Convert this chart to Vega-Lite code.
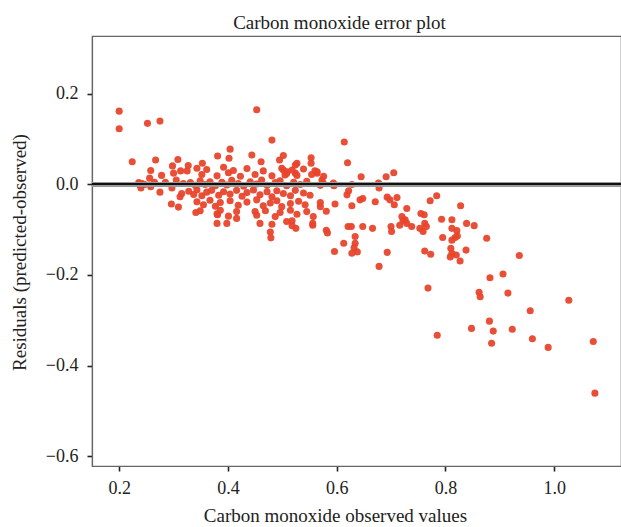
{
  "$schema": "https://vega.github.io/schema/vega-lite/v6.json",
  "width": 529,
  "height": 430,
  "autosize": "none",
  "padding": {"left": 92, "top": 36, "right": 0, "bottom": 61},
  "background": "white",
  "title": {"text": "Carbon monoxide error plot", "font": "Liberation Serif", "fontSize": 19, "fontWeight": "normal", "color": "#222", "anchor": "middle", "dx": -17, "dy": 22, "baseline": "alphabetic", "offset": 10},
  "config": {
    "view": {"stroke": "#666", "strokeWidth": 1.2},
    "axis": {"labelFont": "Liberation Serif", "titleFont": "Liberation Serif", "labelFontSize": 18, "titleFontSize": 19, "titleFontWeight": "normal", "labelColor": "#222", "titleColor": "#222", "domainColor": "#666", "domainWidth": 1.2, "tickColor": "#222", "tickWidth": 1.6, "tickSize": 5, "grid": false}
  },
  "data": {"values": [
    {"x":0.200,"r":0.162},{"x":0.200,"r":0.123},{"x":0.252,"r":0.135},{"x":0.275,"r":0.140},{"x":0.453,"r":0.165},{"x":0.481,"r":0.098},{"x":0.614,"r":0.094},{"x":0.620,"r":0.048},
    {"x":0.224,"r":0.050},{"x":0.267,"r":0.054},{"x":0.308,"r":0.055},{"x":0.298,"r":0.041},{"x":0.381,"r":0.063},{"x":0.404,"r":0.078},{"x":0.402,"r":0.058},{"x":0.444,"r":0.065},
    {"x":0.461,"r":0.050},{"x":0.502,"r":0.064},{"x":0.495,"r":0.054},{"x":0.553,"r":0.059},{"x":0.553,"r":0.047},{"x":0.524,"r":0.043},{"x":0.527,"r":0.047},{"x":0.278,"r":0.020},
    {"x":0.258,"r":0.031},{"x":0.256,"r":0.014},{"x":0.313,"r":0.030},{"x":0.327,"r":0.042},{"x":0.353,"r":0.047},
    {"x":0.236,"r":0.004},{"x":0.238,"r":-0.001},{"x":0.240,"r":-0.008},{"x":0.242,"r":0.002},{"x":0.258,"r":-0.005},{"x":0.275,"r":-0.017},{"x":0.297,"r":-0.008},{"x":0.296,"r":-0.043},
    {"x":0.309,"r":-0.050},{"x":0.312,"r":-0.027},{"x":0.341,"r":-0.062},{"x":0.380,"r":-0.086},{"x":0.398,"r":-0.086},{"x":0.416,"r":-0.075},{"x":0.381,"r":-0.067},{"x":0.450,"r":-0.060},
    {"x":0.459,"r":-0.086},{"x":0.478,"r":-0.105},{"x":0.479,"r":-0.118},{"x":0.508,"r":-0.082},{"x":0.518,"r":-0.091},{"x":0.525,"r":-0.097},{"x":0.556,"r":-0.086},{"x":0.557,"r":-0.071},
    {"x":0.581,"r":-0.101},{"x":0.583,"r":-0.107},{"x":0.597,"r":-0.043},{"x":0.581,"r":-0.059},{"x":0.570,"r":-0.049},{"x":0.613,"r":-0.130},{"x":0.596,"r":-0.148},{"x":0.621,"r":-0.093},
    {"x":0.573,"r":0.010},{"x":0.575,"r":0.003},{"x":0.560,"r":0.030},{"x":0.564,"r":0.025},{"x":0.502,"r":0.032},{"x":0.509,"r":0.028},{"x":0.505,"r":0.021},{"x":0.524,"r":0.025},
    {"x":0.645,"r":0.017},{"x":0.691,"r":0.017},{"x":0.705,"r":0.026},{"x":0.677,"r":0.003},{"x":0.678,"r":-0.008},{"x":0.628,"r":0.000},{"x":0.595,"r":-0.003},{"x":0.619,"r":-0.023},
    {"x":0.622,"r":-0.014},{"x":0.628,"r":-0.047},{"x":0.643,"r":-0.034},{"x":0.648,"r":-0.031},{"x":0.671,"r":-0.038},{"x":0.693,"r":-0.028},{"x":0.698,"r":-0.034},{"x":0.706,"r":-0.045},
    {"x":0.711,"r":-0.029},{"x":0.729,"r":-0.053},{"x":0.772,"r":-0.036},{"x":0.784,"r":-0.025},{"x":0.828,"r":-0.047},{"x":0.627,"r":-0.093},{"x":0.648,"r":-0.093},{"x":0.666,"r":-0.097},
    {"x":0.700,"r":-0.093},{"x":0.701,"r":-0.104},{"x":0.720,"r":-0.071},{"x":0.726,"r":-0.078},{"x":0.716,"r":-0.090},{"x":0.729,"r":-0.086},{"x":0.738,"r":-0.093},{"x":0.722,"r":-0.080},
    {"x":0.755,"r":-0.064},{"x":0.761,"r":-0.067},{"x":0.753,"r":-0.097},{"x":0.759,"r":-0.104},{"x":0.765,"r":-0.093},{"x":0.762,"r":-0.086},{"x":0.793,"r":-0.077},{"x":0.812,"r":-0.078},
    {"x":0.812,"r":-0.097},{"x":0.821,"r":-0.102},{"x":0.839,"r":-0.086},{"x":0.853,"r":-0.091},{"x":0.795,"r":-0.117},{"x":0.812,"r":-0.123},{"x":0.818,"r":-0.117},{"x":0.822,"r":-0.114},
    {"x":0.876,"r":-0.119},{"x":0.634,"r":-0.115},{"x":0.634,"r":-0.130},{"x":0.632,"r":-0.140},{"x":0.628,"r":-0.152},{"x":0.638,"r":-0.149},{"x":0.693,"r":-0.150},{"x":0.762,"r":-0.147},
    {"x":0.773,"r":-0.154},{"x":0.810,"r":-0.141},{"x":0.812,"r":-0.152},{"x":0.820,"r":-0.156},{"x":0.809,"r":-0.160},{"x":0.827,"r":-0.169},{"x":0.838,"r":-0.145},{"x":0.936,"r":-0.157},
    {"x":0.678,"r":-0.181},{"x":0.882,"r":-0.206},{"x":0.906,"r":-0.198},{"x":0.768,"r":-0.229},{"x":0.862,"r":-0.238},{"x":0.864,"r":-0.248},{"x":0.915,"r":-0.240},{"x":1.027,"r":-0.256},
    {"x":0.956,"r":-0.279},{"x":0.881,"r":-0.302},{"x":0.848,"r":-0.318},{"x":0.923,"r":-0.320},{"x":0.888,"r":-0.324},{"x":0.785,"r":-0.333},{"x":0.960,"r":-0.341},{"x":0.885,"r":-0.351},
    {"x":0.989,"r":-0.360},{"x":1.072,"r":-0.347},{"x":1.075,"r":-0.461},
    {"x":0.325,"r":0.030},{"x":0.343,"r":0.036},{"x":0.352,"r":0.022},{"x":0.361,"r":0.033},{"x":0.380,"r":0.019},{"x":0.392,"r":0.038},{"x":0.401,"r":0.026},{"x":0.410,"r":0.031},
    {"x":0.423,"r":0.018},{"x":0.435,"r":0.035},{"x":0.450,"r":0.022},{"x":0.465,"r":0.030},{"x":0.481,"r":0.019},{"x":0.499,"r":0.036},{"x":0.508,"r":0.024},{"x":0.518,"r":0.032},
    {"x":0.527,"r":0.020},{"x":0.539,"r":0.034},{"x":0.554,"r":0.022},{"x":0.564,"r":0.028},{"x":0.576,"r":0.018},
    {"x":0.331,"r":0.004},{"x":0.340,"r":-0.002},{"x":0.349,"r":0.008},{"x":0.358,"r":0.000},{"x":0.367,"r":0.006},{"x":0.377,"r":-0.003},{"x":0.389,"r":0.005},{"x":0.398,"r":-0.001},
    {"x":0.407,"r":0.009},{"x":0.419,"r":0.002},{"x":0.429,"r":-0.004},{"x":0.441,"r":0.006},{"x":0.453,"r":0.001},{"x":0.462,"r":0.010},{"x":0.472,"r":-0.002},{"x":0.487,"r":0.004},
    {"x":0.496,"r":0.008},{"x":0.508,"r":-0.003},{"x":0.521,"r":0.005},{"x":0.533,"r":0.000},{"x":0.545,"r":0.007},{"x":0.570,"r":-0.002},{"x":0.594,"r":0.003},
    {"x":0.328,"r":-0.015},{"x":0.337,"r":-0.022},{"x":0.343,"r":-0.012},{"x":0.352,"r":-0.025},{"x":0.361,"r":-0.017},{"x":0.370,"r":-0.013},{"x":0.383,"r":-0.024},{"x":0.392,"r":-0.016},
    {"x":0.404,"r":-0.021},{"x":0.416,"r":-0.013},{"x":0.426,"r":-0.026},{"x":0.435,"r":-0.018},{"x":0.447,"r":-0.012},{"x":0.459,"r":-0.023},{"x":0.472,"r":-0.016},{"x":0.481,"r":-0.027},
    {"x":0.490,"r":-0.014},{"x":0.502,"r":-0.020},{"x":0.515,"r":-0.025},{"x":0.524,"r":-0.013},{"x":0.539,"r":-0.019},{"x":0.551,"r":-0.024},
    {"x":0.343,"r":-0.038},{"x":0.355,"r":-0.045},{"x":0.367,"r":-0.035},{"x":0.377,"r":-0.048},{"x":0.386,"r":-0.040},{"x":0.404,"r":-0.036},{"x":0.419,"r":-0.046},{"x":0.435,"r":-0.039},
    {"x":0.453,"r":-0.034},{"x":0.465,"r":-0.047},{"x":0.478,"r":-0.041},{"x":0.490,"r":-0.036},{"x":0.499,"r":-0.049},{"x":0.515,"r":-0.042},{"x":0.530,"r":-0.037},{"x":0.542,"r":-0.045},
    {"x":0.570,"r":-0.040},
    {"x":0.349,"r":-0.058},{"x":0.380,"r":-0.065},{"x":0.386,"r":-0.057},{"x":0.401,"r":-0.070},{"x":0.416,"r":-0.060},{"x":0.453,"r":-0.068},{"x":0.469,"r":-0.058},{"x":0.487,"r":-0.071},
    {"x":0.496,"r":-0.062},{"x":0.515,"r":-0.057},{"x":0.527,"r":-0.066},{"x":0.545,"r":-0.060},{"x":0.481,"r":-0.088},{"x":0.518,"r":-0.080},{"x":0.556,"r":-0.090},
    {"x":0.305,"r":0.010},{"x":0.318,"r":0.002},{"x":0.315,"r":-0.020},{"x":0.300,"r":0.025},{"x":0.285,"r":0.005},{"x":0.265,"r":0.005},{"x":0.247,"r":0.000}
  ]},
  "layer": [
    {
      "mark": {"type": "circle", "size": 50, "color": "#E8442C", "opacity": 0.95},
      "encoding": {
        "x": {"field": "x", "type": "quantitative", "scale": {"domain": [0.150, 1.123], "nice": false, "zero": false},
              "axis": {"values": [0.2, 0.4, 0.6, 0.8, 1.0], "format": ".1f", "title": "Carbon monoxide observed values", "labelPadding": 22, "labelBaseline": "alphabetic", "titleX": 243, "titleY": 55, "titleBaseline": "alphabetic", "titleAlign": "center"}},
        "y": {"field": "r", "type": "quantitative", "scale": {"domain": [-0.622, 0.328], "nice": false, "zero": false},
              "axis": {"values": [-0.6, -0.4, -0.2, 0, 0.2], "format": ".1f", "title": "Residuals (predicted-observed)", "labelPadding": 9, "titleX": -73, "titleY": 216, "titleAngle": -90, "titleBaseline": "middle", "titleAlign": "center"}}
      }
    },
    {
      "mark": {"type": "rule", "color": "#999", "strokeWidth": 4, "opacity": 0.5},
      "encoding": {"y": {"datum": 0}}
    },
    {
      "mark": {"type": "rule", "color": "#111", "strokeWidth": 1.3},
      "encoding": {"y": {"datum": 0}}
    }
  ]
}
